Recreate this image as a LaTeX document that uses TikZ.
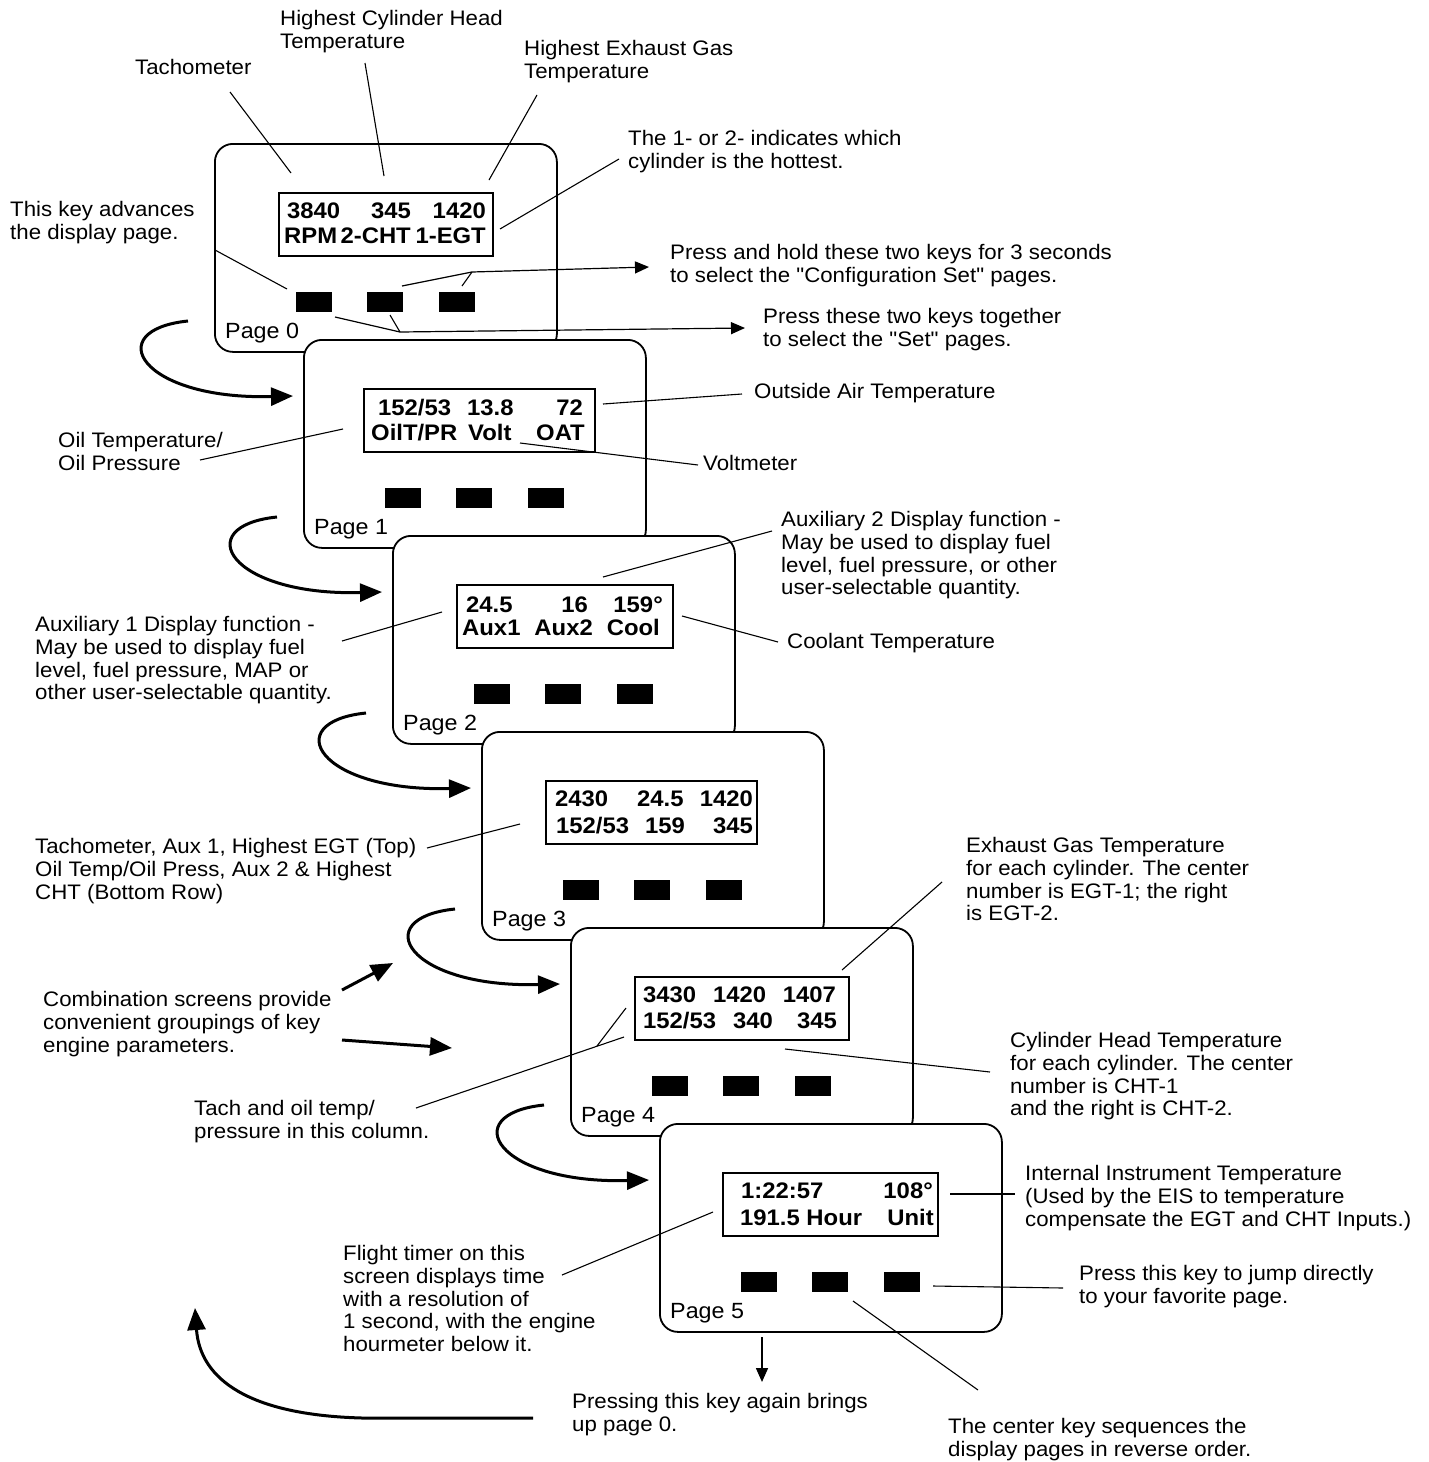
\documentclass[tikz,border=0pt]{standalone}
\usepackage{fontspec}
\setmainfont{Liberation Sans}[FakeStretch=1.06]
\newfontfamily\qfont{Liberation Sans}[FakeStretch=1.06]
\newcommand{\sq}{{\qfont"}}
\usetikzlibrary{arrows.meta}
\begin{document}
\begin{tikzpicture}[x=1pt,y=-1pt,
  pagebox/.style={draw, line width=1.8pt, fill=white, rounded corners=18pt, minimum width=342pt, minimum height=208pt, anchor=north west, inner sep=0pt},
  lcdbox/.style={draw, line width=1.8pt, minimum height=63pt, anchor=north west, inner sep=0pt},
  keybtn/.style={fill=black, minimum width=36pt, minimum height=20pt, anchor=north west, inner sep=0pt},
  pagelbl/.style={anchor=base west, inner sep=0pt, font=\fontsize{22}{24}\selectfont},
  lcdL/.style={anchor=base west, inner sep=0pt, font=\fontsize{22.5}{24}\selectfont\bfseries},
  lcdR/.style={anchor=base east, inner sep=0pt, font=\fontsize{22.5}{24}\selectfont\bfseries},
  lbl/.style={anchor=north west, inner sep=0pt, align=left, font=\fontsize{21}{22.6}\selectfont},
  leader/.style={line width=1.1pt},
  thinarrow/.style={line width=1.2pt, -{Triangle[length=14pt,width=12pt]}},
  bigarrow/.style={line width=3pt, -{Triangle[length=22pt,width=18pt]}}
]
\useasboundingbox (0,0) rectangle (1429,1462);
\fill[white] (0,0) rectangle (1429,1462);

% ---------- pages ----------
\foreach \k/\lx/\lw in {0/64/214,1/60/231,2/64/216,3/64/211,4/64/214,5/63/215}{
  \begin{scope}[shift={(89*\k,196*\k)}]
    \node[pagebox] (box\k) at (214,143) {};
    \node[lcdbox, minimum width=\lw pt] (lcd\k) at (214+\lx,192) {};
    \node[keybtn] (ka\k) at (296,292) {};
    \node[keybtn] (kb\k) at (367,292) {};
    \node[keybtn] (kc\k) at (439,292) {};
    \node[pagelbl] (pl\k) at (225,338) {Page \k};
  \end{scope}
}

% ---------- curved page arrows ----------
\foreach \k in {0,...,4}{
  \begin{scope}[shift={(89*\k,196*\k)}]
    \coordinate (as\k) at (188,321);
    \coordinate (at\k) at (293,396);
    \draw[bigarrow] (as\k) .. controls (100,330) and (140,400) .. (at\k);
  \end{scope}
}

% ---------- LCD texts ----------
\node[lcdL] (t01) at (287,218) {3840};
\node[lcdR] (t02) at (411,218) {345};
\node[lcdR] (t03) at (486,218) {1420};
\node[lcdL] (t04) at (284,243) {RPM};
\node[lcdR] (t05) at (411,243) {2-CHT};
\node[lcdR] (t06) at (486,243) {1-EGT};

\node[lcdL] (t11) at (378,415) {152/53};
\node[lcdL] (t12) at (467,415) {13.8};
\node[lcdR] (t13) at (583,415) {72};
\node[lcdL] (t14) at (371,440) {OilT/PR};
\node[lcdL] (t15) at (468,440) {Volt};
\node[lcdR] (t16) at (585,440) {OAT};

\node[lcdL] (t21) at (466,612) {24.5};
\node[lcdR] (t22) at (588,612) {16};
\node[lcdR] (t23) at (663,612) {159°};
\node[lcdL] (t24) at (462,635) {Aux1};
\node[lcdR] (t25) at (593,635) {Aux2};
\node[lcdR] (t26) at (660,635) {Cool};

\node[lcdL] (t31) at (555,806) {2430};
\node[lcdL] (t32) at (637,806) {24.5};
\node[lcdR] (t33) at (753,806) {1420};
\node[lcdL] (t34) at (556,833) {152/53};
\node[lcdL] (t35) at (645,833) {159};
\node[lcdR] (t36) at (753,833) {345};

\node[lcdL] (t41) at (643,1002) {3430};
\node[lcdL] (t42) at (713,1002) {1420};
\node[lcdR] (t43) at (836,1002) {1407};
\node[lcdL] (t44) at (643,1028) {152/53};
\node[lcdL] (t45) at (733,1028) {340};
\node[lcdR] (t46) at (837,1028) {345};

\node[lcdL] (t51) at (741,1198) {1:22:57};
\node[lcdR] (t52) at (933,1198) {108°};
\node[lcdL] (t53) at (740,1225) {191.5 Hour};
\node[lcdR] (t54) at (934,1225) {Unit};

% ---------- labels ----------
\node[lbl] (L1) at (135,59.5) {Tachometer};
\node[lbl] (L2) at (280,10.5) {Highest Cylinder Head\\Temperature};
\node[lbl] (L3) at (524,40.5) {Highest Exhaust Gas\\Temperature};
\node[lbl] (L4) at (628,130.5) {The 1- or 2- indicates which\\cylinder is the hottest.};
\node[lbl] (L5) at (10,201.5) {This key advances\\the display page.};
\node[lbl] (L6) at (670,244.5) {Press and hold these two keys for 3 seconds\\to select the \sq Configuration Set\sq{} pages.};
\node[lbl] (L7) at (763,308.5) {Press these two keys together\\to select the \sq Set\sq{} pages.};
\node[lbl] (L8) at (754,383.5) {Outside Air Temperature};
\node[lbl] (L9) at (58,432.5) {Oil Temperature/\\Oil Pressure};
\node[lbl] (L10) at (703,455.5) {Voltmeter};
\node[lbl] (L11) at (781,511.5) {Auxiliary 2 Display function -\\May be used to display fuel\\level, fuel pressure, or other\\user-selectable quantity.};
\node[lbl] (L12) at (35,616.5) {Auxiliary 1 Display function -\\May be used to display fuel\\level, fuel pressure, MAP or\\other user-selectable quantity.};
\node[lbl] (L13) at (787,633.5) {Coolant Temperature};
\node[lbl] (L14) at (35,838.5) {Tachometer, Aux 1, Highest EGT (Top)\\Oil Temp/Oil Press, Aux 2 \& Highest\\CHT (Bottom Row)};
\node[lbl] (L15) at (966,837.5) {Exhaust Gas Temperature\\for each cylinder. The center\\number is EGT-1; the right\\is EGT-2.};
\node[lbl] (L16) at (43,991.5) {Combination screens provide\\convenient groupings of key\\engine parameters.};
\node[lbl] (L17) at (1010,1032.5) {Cylinder Head Temperature\\for each cylinder. The center\\number is CHT-1\\and the right is CHT-2.};
\node[lbl] (L18) at (194,1100.5) {Tach and oil temp/\\pressure in this column.};
\node[lbl] (L19) at (1025,1165.5) {Internal Instrument Temperature\\(Used by the EIS to temperature\\compensate the EGT and CHT Inputs.)};
\node[lbl] (L20) at (343,1245.5) {Flight timer on this\\screen displays time\\with a resolution of\\1 second, with the engine\\hourmeter below it.};
\node[lbl] (L21) at (1079,1265.5) {Press this key to jump directly\\to your favorite page.};
\node[lbl] (L22) at (572,1393.5) {Pressing this key again brings\\up page 0.};
\node[lbl] (L23) at (948,1418.5) {The center key sequences the\\display pages in reverse order.};

% ---------- leader coordinates ----------
\coordinate (c1a) at (230,92);   \coordinate (c1b) at (291,173);
\coordinate (c2a) at (365,63);   \coordinate (c2b) at (384,176);
\coordinate (c3a) at (537,95);   \coordinate (c3b) at (489,180);
\coordinate (c4a) at (619,159);  \coordinate (c4b) at (500,229);
\coordinate (c5a) at (215,250);  \coordinate (c5b) at (287,289);
\coordinate (c6a) at (402,286);  \coordinate (c6j) at (472,272);
\coordinate (c6c) at (462,286);  \coordinate (c6t) at (649,267);
\coordinate (c7a) at (335,317);  \coordinate (c7j) at (400,332);
\coordinate (c7c) at (390,315);  \coordinate (c7t) at (745,328);
\coordinate (c8a) at (603,404);  \coordinate (c8b) at (742,394);
\coordinate (c9a) at (520,443);  \coordinate (c9b) at (698,465);
\coordinate (c10a) at (200,460); \coordinate (c10b) at (343,429);
\coordinate (c11a) at (603,577); \coordinate (c11b) at (772,531);
\coordinate (c12a) at (682,616); \coordinate (c12b) at (778,642);
\coordinate (c13a) at (342,641); \coordinate (c13b) at (442,612);
\coordinate (c14a) at (427,848); \coordinate (c14b) at (520,824);
\coordinate (c15a) at (942,882); \coordinate (c15b) at (842,970);
\coordinate (c16a) at (785,1049); \coordinate (c16b) at (990,1072);
\coordinate (c17a) at (416,1108); \coordinate (c17b) at (624,1037);
\coordinate (c17j) at (597,1046); \coordinate (c17c) at (626,1008);
\coordinate (c18a) at (950,1194); \coordinate (c18b) at (1015,1194);
\coordinate (c19a) at (933,1286); \coordinate (c19b) at (1063,1288);
\coordinate (c20a) at (853,1301); \coordinate (c20b) at (978,1390);
\coordinate (c21a) at (562,1275); \coordinate (c21b) at (713,1212);
\coordinate (d1) at (762,1337);  \coordinate (d2) at (762,1382);
\coordinate (m1a) at (342,990);  \coordinate (m1b) at (393,963);
\coordinate (m2a) at (342,1040); \coordinate (m2b) at (452,1048);
\coordinate (r1) at (533,1418);  \coordinate (r2) at (362,1418);
\coordinate (r3) at (195,1308);

% ---------- leaders ----------
\draw[leader] (c1a) -- (c1b);
\draw[leader] (c2a) -- (c2b);
\draw[leader] (c3a) -- (c3b);
\draw[leader] (c4a) -- (c4b);
\draw[leader] (c5a) -- (c5b);
\draw[leader] (c6c) -- (c6j);
\draw[leader, thinarrow] (c6a) -- (c6j) -- (c6t);
\draw[leader] (c7c) -- (c7j);
\draw[leader, thinarrow] (c7a) -- (c7j) -- (c7t);
\draw[leader] (c8a) -- (c8b);
\draw[leader] (c9a) -- (c9b);
\draw[leader] (c10a) -- (c10b);
\draw[leader] (c11a) -- (c11b);
\draw[leader] (c12a) -- (c12b);
\draw[leader] (c13a) -- (c13b);
\draw[leader] (c14a) -- (c14b);
\draw[leader] (c15a) -- (c15b);
\draw[leader] (c16a) -- (c16b);
\draw[leader] (c17a) -- (c17b);
\draw[leader] (c17j) -- (c17c);
\draw[leader] (c18a) -- (c18b);
\draw[leader] (c19a) -- (c19b);
\draw[leader] (c20a) -- (c20b);
\draw[leader] (c21a) -- (c21b);
\draw[line width=1.6pt, -{Triangle[length=14pt,width=12pt]}] (d1) -- (d2);
\draw[bigarrow] (m1a) -- (m1b);
\draw[bigarrow] (m2a) -- (m2b);
\draw[bigarrow] (r1) -- (r2) .. controls (250,1415) and (200,1380) .. (r3);
\end{tikzpicture}
\end{document}
